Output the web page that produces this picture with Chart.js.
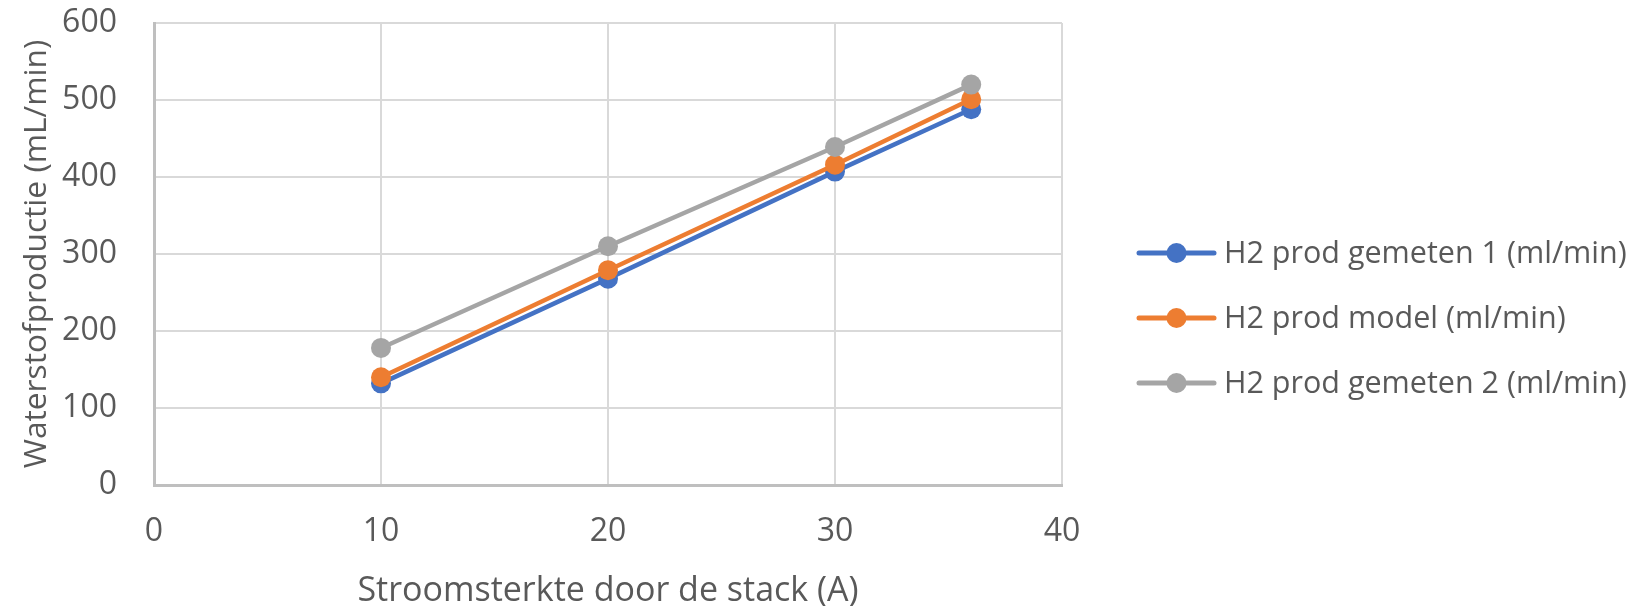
<!DOCTYPE html>
<html>
<head>
<meta charset="utf-8">
<script src="https://cdn.jsdelivr.net/npm/chart.js@4.4.1/dist/chart.umd.min.js"></script>
<style>
  html, body { margin: 0; padding: 0; background: #ffffff; }
  #wrap { width: 1641px; height: 606px; }
</style>
</head>
<body>
<div id="wrap"><canvas id="c" width="1641" height="606"></canvas></div>
<script>
// Stack current (A)
const current = [10, 20, 30, 36];
// Hydrogen production (mL/min)
const measured1 = [132, 268, 407, 488];
const model = [140, 279, 416, 501];
const measured2 = [178, 310, 439, 520];

const seriesNames = [
  'H2 prod gemeten 1 (ml/min)',
  'H2 prod model (ml/min)',
  'H2 prod gemeten 2 (ml/min)'
];
const seriesColors = ['#4472C4', '#ED7D31', '#A5A5A5'];

const xTicks = [0, 10, 20, 30, 40];
const yTicks = [0, 100, 200, 300, 400, 500, 600];

const xTitle = 'Stroomsterkte door de stack (A)';
const yTitle = 'Waterstofproductie (mL/min)';

const textColor = '#595959';
const gridColor = '#d9d9d9';
const axisColor = '#bfbfbf';
const fontFamily = 'Open Sans';

function toPoints(xs, ys) {
  return xs.map((x, i) => ({ x: x, y: ys[i] }));
}

const seriesValues = [measured1, model, measured2];
const datasets = seriesValues.map((vals, i) => ({
  label: seriesNames[i],
  data: toPoints(current, vals),
  borderColor: seriesColors[i],
  backgroundColor: seriesColors[i],
  borderWidth: 4.5,
  pointRadius: 10,
  pointHoverRadius: 10,
  pointBorderWidth: 0,
  showLine: true,
  tension: 0,
  order: 3 - i   // later series are painted on top
}));

// Legend to the right of the plot: line + dot symbol, then the series name
const sideLegend = {
  id: 'sideLegend',
  afterDraw(chart) {
    const ctx = chart.ctx;
    const area = chart.chartArea;
    const x0 = area.right + 77;
    const symW = 75;
    const rowY = [253, 318, 383];
    ctx.save();
    ctx.font = '30.5px "' + fontFamily + '"';
    ctx.textBaseline = 'middle';
    ctx.textAlign = 'left';
    chart.data.datasets.forEach((ds, i) => {
      const y = rowY[i];
      const c = seriesColors[i];
      ctx.strokeStyle = c;
      ctx.lineWidth = 5;
      ctx.lineCap = 'round';
      ctx.beginPath();
      ctx.moveTo(x0, y);
      ctx.lineTo(x0 + symW, y);
      ctx.stroke();
      ctx.fillStyle = c;
      ctx.beginPath();
      ctx.arc(x0 + symW / 2, y, 10, 0, Math.PI * 2);
      ctx.fill();
      ctx.fillStyle = textColor;
      ctx.fillText(ds.label, x0 + symW + 10, y + 1);
    });
    ctx.restore();
  }
};

new Chart(document.getElementById('c'), {
  type: 'scatter',
  data: { datasets: datasets },
  plugins: [sideLegend],
  options: {
    responsive: false,
    animation: false,
    layout: { padding: { left: 18, right: 579, top: 23, bottom: 0 } },
    plugins: {
      tooltip: { enabled: false },
      legend: { display: false }
    },
    scales: {
      x: {
        type: 'linear',
        min: 0, max: 40,
        afterBuildTicks: (s) => { s.ticks = xTicks.map(v => ({ value: v })); },
        afterFit: (s) => { s.height = 121; s.paddingLeft = 0; s.paddingRight = 0; },
        grid: { color: gridColor, lineWidth: 2, drawTicks: false },
        border: { display: true, color: axisColor, width: 3 },
        ticks: { color: textColor, padding: 28, maxRotation: 0, font: { family: fontFamily, size: 32 } },
        title: {
          display: true, text: xTitle, color: textColor,
          font: { family: fontFamily, size: 34, lineHeight: 0.85 },
          padding: { top: 19, bottom: 0 }
        }
      },
      y: {
        type: 'linear',
        min: 0, max: 600,
        afterBuildTicks: (s) => { s.ticks = yTicks.map(v => ({ value: v })); },
        afterFit: (s) => { s.width = 136; s.paddingTop = 0; s.paddingBottom = 0; },
        grid: { color: gridColor, lineWidth: 2, drawTicks: false },
        border: { display: true, color: axisColor, width: 3 },
        ticks: { color: textColor, padding: 37, font: { family: fontFamily, size: 32 } },
        title: {
          display: true, text: yTitle, color: textColor,
          font: { family: fontFamily, size: 31.7 },
          padding: { top: 0, bottom: 7 }
        }
      }
    }
  }
});
</script>
</body>
</html>
